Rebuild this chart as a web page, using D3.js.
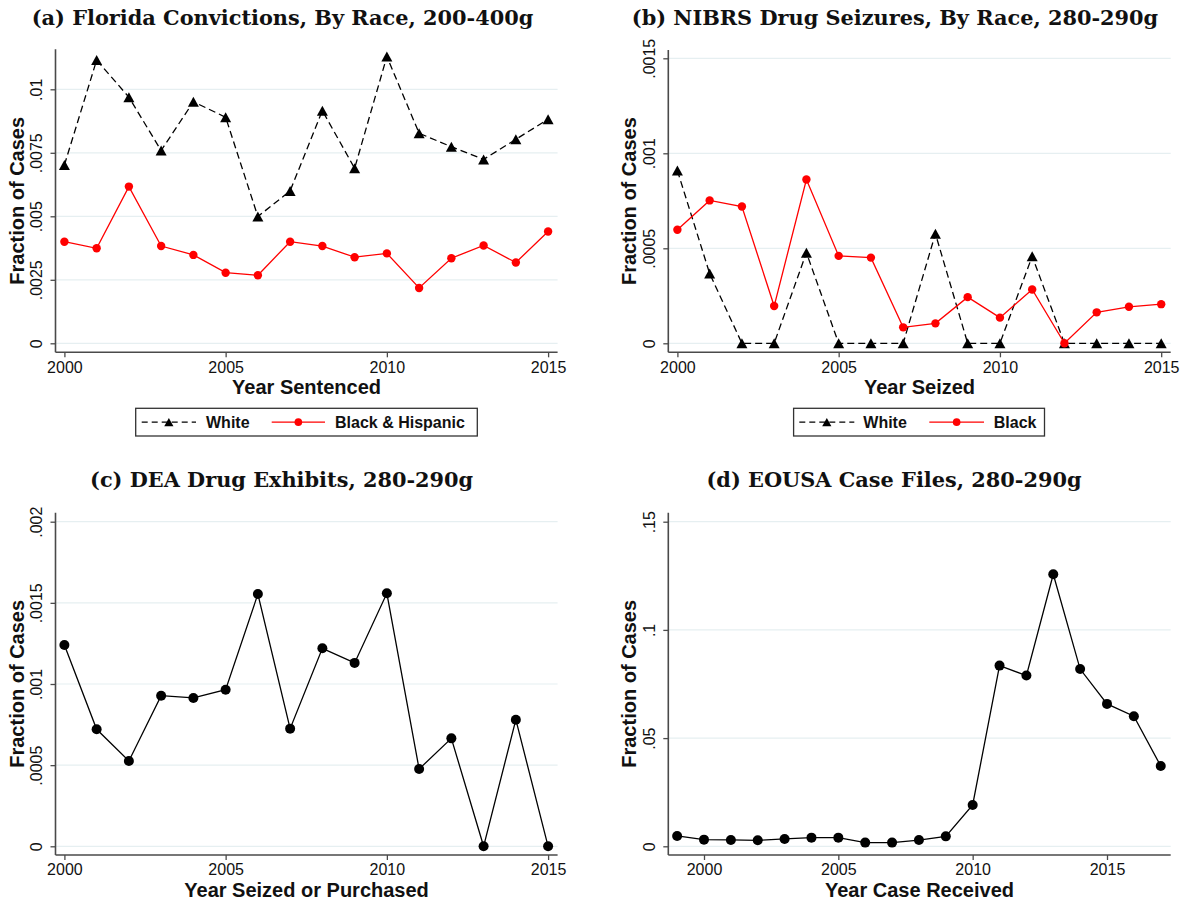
<!DOCTYPE html>
<html>
<head>
<meta charset="utf-8">
<script src="https://cdn.jsdelivr.net/npm/d3@7"></script>
<style>
  html, body { margin: 0; padding: 0; background: #fff; }
  svg { display: block; }
</style>
</head>
<body>
<svg id="chart" width="1186" height="903"></svg>
<script>
// ---------------- DATA ----------------
const yearsA = [2000, 2001, 2002, 2003, 2004, 2005, 2006, 2007, 2008, 2009, 2010, 2011, 2012, 2013, 2014, 2015];
const floridaWhite = [0.00702, 0.01115, 0.00969, 0.00759, 0.00951, 0.00890, 0.00499, 0.00600, 0.00916, 0.00689, 0.01129, 0.00827, 0.00774, 0.00724, 0.00803, 0.00882];
const floridaBlackHisp = [0.00400, 0.00374, 0.00617, 0.00383, 0.00348, 0.00278, 0.00268, 0.00400, 0.00383, 0.00339, 0.00354, 0.00218, 0.00335, 0.00385, 0.00318, 0.00440];

const yearsB = [2000, 2001, 2002, 2003, 2004, 2005, 2006, 2007, 2008, 2009, 2010, 2011, 2012, 2013, 2014, 2015];
const nibrsWhite = [0.000909, 0.000367, 0, 0, 0.000477, 0, 0, 0, 0.000577, 0, 0, 0.000458, 0, 0, 0, 0];
const nibrsBlack = [0.000598, 0.000752, 0.000720, 0.000196, 0.000862, 0.000460, 0.000451, 0.000084, 0.000105, 0.000243, 0.000135, 0.000283, 0, 0.000163, 0.000192, 0.000206];

const yearsC = [2000, 2001, 2002, 2003, 2004, 2005, 2006, 2007, 2008, 2009, 2010, 2011, 2012, 2013, 2014, 2015];
const deaExhibits = [0.00124, 0.000721, 0.000526, 0.000928, 0.000914, 0.000965, 0.001554, 0.000725, 0.00122, 0.00113, 0.001559, 0.000476, 0.000665, 0, 0.00078, 0];

const yearsD = [1999, 2000, 2001, 2002, 2003, 2004, 2005, 2006, 2007, 2008, 2009, 2010, 2011, 2012, 2013, 2014, 2015, 2016, 2017];
const eousaFiles = [0.00477, 0.00308, 0.00293, 0.00277, 0.00339, 0.0040, 0.0040, 0.0017, 0.0017, 0.0029, 0.0046, 0.0191, 0.0835, 0.0789, 0.1257, 0.0819, 0.0658, 0.0601, 0.0371];

const xTickYears = [2000, 2005, 2010, 2015];
const yTicksA = [0, 0.0025, 0.005, 0.0075, 0.01];
const yTickLabelsA = ["0", ".0025", ".005", ".0075", ".01"];
const yTicksB = [0, 0.0005, 0.001, 0.0015];
const yTickLabelsB = ["0", ".0005", ".001", ".0015"];
const yTicksC = [0, 0.0005, 0.001, 0.0015, 0.002];
const yTickLabelsC = ["0", ".0005", ".001", ".0015", ".002"];
const yTicksD = [0, 0.05, 0.1, 0.15];
const yTickLabelsD = ["0", ".05", ".1", ".15"];

const titles = ["(a) Florida Convictions, By Race, 200-400g", "(b) NIBRS Drug Seizures, By Race, 280-290g",
                "(c) DEA Drug Exhibits, 280-290g", "(d) EOUSA Case Files, 280-290g"];
const xTitles = ["Year Sentenced", "Year Seized", "Year Seized or Purchased", "Year Case Received"];
const yTitle = "Fraction of Cases";

// ---------------- LAYOUT / STYLE ----------------
const svg = d3.select("#chart");
const AXIS_COLOR = "#4a4a4a";
const GRID_COLOR = "#e6eff1";
const RED = "#ff0000";
const SANS = "'Liberation Sans', Arial, Helvetica, sans-serif";
const SERIF = "'DejaVu Serif', 'Liberation Serif', serif";

function triPath(s) {
  // bounding-box centred triangle
  return `M0,${-s}L${s * 1.1},${s}L${-s * 1.1},${s}Z`;
}

function drawPanel(p) {
  const g = svg.append("g");
  const x = d3.scaleLinear().domain([p.x0v, p.x1v]).range([p.x0, p.x1]);
  const y = d3.scaleLinear().domain([0, p.yTopV]).range([p.y0, p.yTop]);

  // gridlines
  g.append("g").selectAll("line").data(p.yTicks).join("line")
    .attr("x1", p.left).attr("x2", p.right)
    .attr("y1", d => y(d)).attr("y2", d => y(d))
    .attr("stroke", GRID_COLOR).attr("stroke-width", 1.2);

  // y axis
  const ya = g.append("g").attr("transform", `translate(${p.left},0)`)
    .call(d3.axisLeft(y).tickValues(p.yTicks).tickFormat((d, i) => p.yLabels[i]).tickSize(5).tickPadding(4));
  ya.select(".domain").remove();
  ya.selectAll(".tick line").attr("stroke", AXIS_COLOR).attr("stroke-width", 1.3);
  ya.selectAll(".tick text")
    .attr("transform", "rotate(-90)").attr("x", 0).attr("y", -13.8).attr("dy", 0)
    .attr("text-anchor", "middle")
    .attr("font-family", SANS).attr("font-size", 16).attr("fill", "#111");
  g.append("line").attr("x1", p.left).attr("x2", p.left).attr("y1", p.top).attr("y2", p.bottom)
    .attr("stroke", AXIS_COLOR).attr("stroke-width", 1.6);

  // x axis
  const xa = g.append("g").attr("transform", `translate(0,${p.bottom})`)
    .call(d3.axisBottom(x).tickValues(xTickYears).tickFormat(d3.format("d")).tickSize(5).tickPadding(4));
  xa.select(".domain").remove();
  xa.selectAll(".tick line").attr("stroke", AXIS_COLOR).attr("stroke-width", 1.3);
  xa.selectAll(".tick text").attr("font-family", SANS).attr("font-size", 16).attr("fill", "#111");
  g.append("line").attr("x1", p.left).attr("x2", p.right).attr("y1", p.bottom).attr("y2", p.bottom)
    .attr("stroke", AXIS_COLOR).attr("stroke-width", 1.6);

  // axis titles
  g.append("text").attr("x", (p.left + p.right) / 2).attr("y", p.bottom + 42)
    .attr("text-anchor", "middle").attr("font-family", SANS).attr("font-weight", "bold")
    .attr("font-size", 20).attr("fill", "#111").text(p.xTitle);
  g.append("text").attr("transform", `translate(${p.left - 32},${(p.top + p.bottom) / 2}) rotate(-90)`)
    .attr("text-anchor", "middle").attr("font-family", SANS).attr("font-weight", "bold")
    .attr("font-size", 20).attr("fill", "#111").text(yTitle);

  // panel title
  g.append("text").attr("class", "ptitle").attr("x", p.titleX).attr("y", p.titleY)
    .attr("data-target", p.titleW)
    .attr("text-anchor", "middle").attr("font-family", SERIF).attr("font-weight", "bold")
    .attr("font-size", 20).attr("fill", "#111").text(p.title);

  // series
  p.series.forEach(s => {
    const pts = s.values.map((v, i) => [s.years[i], v]);
    const line = d3.line().x(d => x(d[0])).y(d => y(d[1]));
    g.append("path").datum(pts).attr("d", line).attr("fill", "none")
      .attr("stroke", s.color).attr("stroke-width", 1.3)
      .attr("stroke-dasharray", s.dash ? "7,4" : null);
    if (s.marker === "tri") {
      g.append("g").selectAll("path").data(pts).join("path")
        .attr("transform", d => `translate(${x(d[0])},${y(d[1])})`)
        .attr("d", triPath(5)).attr("fill", s.color);
    } else {
      g.append("g").selectAll("circle").data(pts).join("circle")
        .attr("cx", d => x(d[0])).attr("cy", d => y(d[1])).attr("r", s.r)
        .attr("fill", s.color);
    }
  });

  // legend
  if (p.legend) {
    const L = p.legend;
    g.append("rect").attr("x", L.x).attr("y", L.y).attr("width", L.w).attr("height", L.h)
      .attr("fill", "#fff").attr("stroke", "#333").attr("stroke-width", 1.3);
    const cy = L.y + L.h / 2;
    L.items.forEach(it => {
      g.append("line").attr("x1", it.x1).attr("x2", it.x2).attr("y1", cy).attr("y2", cy)
        .attr("stroke", it.color).attr("stroke-width", 1.3)
        .attr("stroke-dasharray", it.dash ? "6,4" : null);
      const mx = (it.x1 + it.x2) / 2;
      if (it.marker === "tri") {
        g.append("path").attr("transform", `translate(${mx},${cy})`).attr("d", triPath(4.2)).attr("fill", it.color);
      } else {
        g.append("circle").attr("cx", mx).attr("cy", cy).attr("r", 3.8).attr("fill", it.color);
      }
      g.append("text").attr("x", it.tx).attr("y", cy + 6).attr("font-family", SANS)
        .attr("font-weight", "bold").attr("font-size", 16).attr("fill", "#111").text(it.label);
    });
  }
}

drawPanel({
  title: titles[0], titleX: 282.5, titleY: 25, titleW: 505,
  xTitle: xTitles[0],
  x0v: 2000, x1v: 2015, x0: 64.4, x1: 548.1,
  yTopV: 0.01, y0: 343.3, yTop: 89.3,
  left: 55.5, right: 557.6, top: 49.3, bottom: 352.3,
  yTicks: yTicksA, yLabels: yTickLabelsA,
  series: [
    { years: yearsA, values: floridaWhite, color: "#000", dash: true, marker: "tri" },
    { years: yearsA, values: floridaBlackHisp, color: RED, dash: false, marker: "circle", r: 4.2 }
  ],
  legend: { x: 135.7, y: 408.3, w: 341.6, h: 27.7, items: [
    { x1: 141.7, x2: 196, color: "#000", dash: true, marker: "tri", tx: 206, label: "White" },
    { x1: 271.7, x2: 325, color: RED, dash: false, marker: "circle", tx: 335, label: "Black & Hispanic" }
  ]}
});

drawPanel({
  title: titles[1], titleX: 895, titleY: 25, titleW: 524,
  xTitle: xTitles[1],
  x0v: 2000, x1v: 2015, x0: 677.4, x1: 1161.2,
  yTopV: 0.0015, y0: 343.3, yTop: 58.3,
  left: 668.3, right: 1170.7, top: 50, bottom: 352.3,
  yTicks: yTicksB, yLabels: yTickLabelsB,
  series: [
    { years: yearsB, values: nibrsWhite, color: "#000", dash: true, marker: "tri" },
    { years: yearsB, values: nibrsBlack, color: RED, dash: false, marker: "circle", r: 4.2 }
  ],
  legend: { x: 793.6, y: 408.3, w: 250.9, h: 27.7, items: [
    { x1: 799.3, x2: 854.3, color: "#000", dash: true, marker: "tri", tx: 863.3, label: "White" },
    { x1: 929.3, x2: 984, color: RED, dash: false, marker: "circle", tx: 993.8, label: "Black" }
  ]}
});

drawPanel({
  title: titles[2], titleX: 281.6, titleY: 487, titleW: 383,
  xTitle: xTitles[2],
  x0v: 2000, x1v: 2015, x0: 64.4, x1: 548.1,
  yTopV: 0.002, y0: 846.3, yTop: 521.7,
  left: 55.5, right: 557.6, top: 512.7, bottom: 855,
  yTicks: yTicksC, yLabels: yTickLabelsC,
  series: [
    { years: yearsC, values: deaExhibits, color: "#000", dash: false, marker: "circle", r: 5 }
  ]
});

drawPanel({
  title: titles[3], titleX: 894, titleY: 487, titleW: 375,
  xTitle: xTitles[3],
  x0v: 2000, x1v: 2015, x0: 704, x1: 1107,
  yTopV: 0.15, y0: 846.3, yTop: 521.7,
  left: 668.3, right: 1170.7, top: 512.7, bottom: 855,
  yTicks: yTicksD, yLabels: yTickLabelsD,
  series: [
    { years: yearsD, values: eousaFiles, color: "#000", dash: false, marker: "circle", r: 5 }
  ]
});

// fit panel titles to measured widths (common size)
const tnodes = svg.selectAll("text.ptitle").nodes();
let ratios = tnodes.map(n => (+n.getAttribute("data-target")) / n.getComputedTextLength());
const meanR = d3.mean(ratios);
tnodes.forEach(n => n.setAttribute("font-size", (20 * meanR).toFixed(2)));
</script>
</body>
</html>
